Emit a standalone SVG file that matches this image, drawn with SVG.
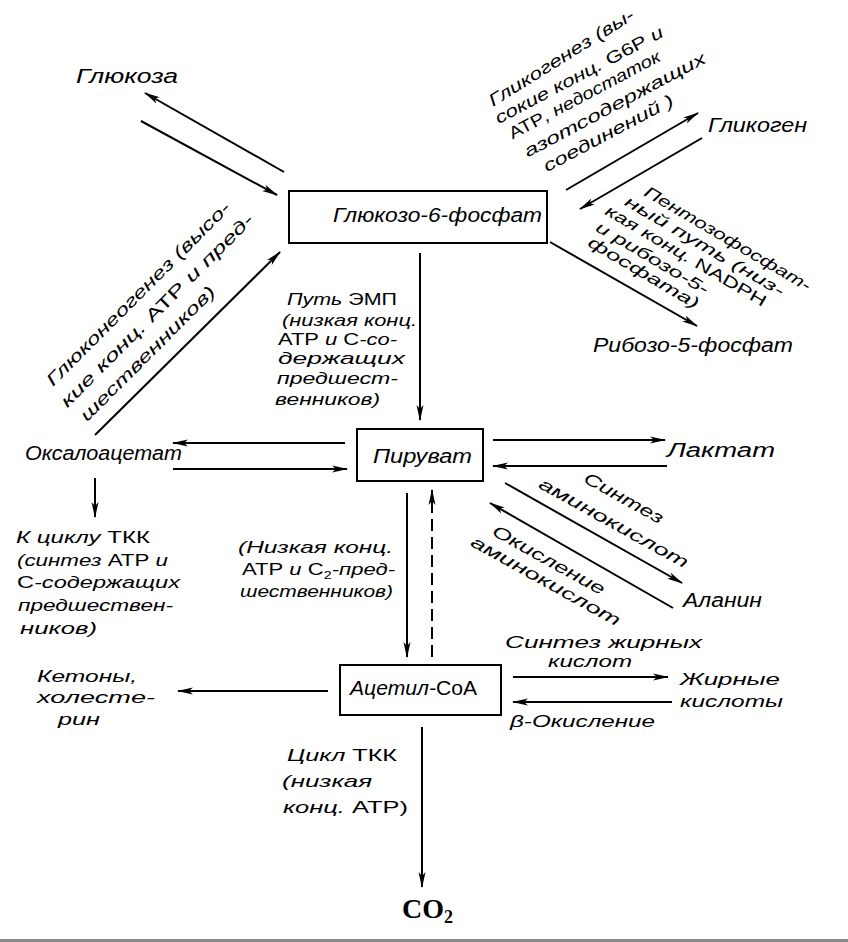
<svg xmlns="http://www.w3.org/2000/svg" width="848" height="942" viewBox="0 0 848 942">
<defs>
<marker id="ah" viewBox="0 0 16 8" refX="15" refY="4" markerWidth="16" markerHeight="8" markerUnits="userSpaceOnUse" orient="auto">
<path d="M0,0.5 L16,4 L0,7.5 L4,4 z" fill="#000"/>
</marker>
<style>
.t{font-family:"Liberation Sans","DejaVu Sans",sans-serif;font-style:italic;font-size:17px;fill:#000}
.s{font-size:16px}
.n{font-size:20px}
.up{font-style:normal}
.ln{stroke:#000;stroke-width:2;fill:none;marker-end:url(#ah)}
.dash{stroke-dasharray:12,6}
.box{stroke:#000;stroke-width:2;fill:#fff}
.co{font-family:"Liberation Serif","DejaVu Serif",serif;font-size:28px;font-weight:bold;fill:#000}
</style>
</defs>
<rect x="0" y="0" width="848" height="942" fill="#fff"/>
<rect x="0" y="939" width="848" height="3" fill="#8a8a8a"/>

<g id="connectors">
<line class="ln" x1="284" y1="172" x2="145" y2="93"/>
<line class="ln" x1="141" y1="121" x2="277" y2="195"/>
<line class="ln" x1="566" y1="190" x2="698" y2="113"/>
<line class="ln" x1="702" y1="138" x2="580" y2="209"/>
<line class="ln" x1="550" y1="242" x2="697" y2="326"/>
<line class="ln" x1="95" y1="435" x2="280" y2="252"/>
<line class="ln" x1="420" y1="253" x2="420" y2="420"/>
<line class="ln" x1="345" y1="443" x2="173" y2="443"/>
<line class="ln" x1="173" y1="469" x2="347" y2="469"/>
<line class="ln" x1="95" y1="478" x2="95" y2="517"/>
<line class="ln" x1="493" y1="440" x2="665" y2="440"/>
<line class="ln" x1="667" y1="466" x2="493" y2="466"/>
<line class="ln" x1="505" y1="483" x2="682" y2="583"/>
<line class="ln" x1="673" y1="608" x2="490" y2="503"/>
<line class="ln" x1="407" y1="493" x2="407" y2="657"/>
<line class="ln dash" x1="432" y1="657" x2="432" y2="490"/>
<line class="ln" x1="328" y1="691" x2="178" y2="691"/>
<line class="ln" x1="513" y1="677" x2="668" y2="677"/>
<line class="ln" x1="672" y1="702" x2="513" y2="702"/>
<line class="ln" x1="422" y1="727" x2="422" y2="887"/>
</g>

<g id="edge-labels">
<g transform="translate(493,107) rotate(-28)">
<text class="t" x="0" y="0" transform="rotate(-4)" textLength="168" lengthAdjust="spacingAndGlyphs">Гликогенез (вы-</text>
<text class="t" x="-3" y="18" textLength="188" lengthAdjust="spacingAndGlyphs">сокие конц. <tspan class="up">G6P</tspan> и</text>
<text class="t" x="2" y="38" textLength="169" lengthAdjust="spacingAndGlyphs"><tspan class="up">АТР</tspan>, недостаток</text>
<text class="t" x="7" y="61" textLength="203" lengthAdjust="spacingAndGlyphs">азотсодержащих</text>
<text class="t" x="17" y="83" textLength="145" lengthAdjust="spacingAndGlyphs">соединений )</text>
</g>
<g transform="translate(643,195) rotate(30.5)">
<text class="t s" x="0" y="0" textLength="190" lengthAdjust="spacingAndGlyphs">Пентозофосфат-</text>
<text class="t s" x="-12" y="18" textLength="182" lengthAdjust="spacingAndGlyphs">ный путь (низ-</text>
<text class="t s" x="-24" y="36" textLength="184" lengthAdjust="spacingAndGlyphs">кая конц. <tspan class="up">NADPH</tspan></text>
<text class="t s" x="-24" y="55" textLength="128" lengthAdjust="spacingAndGlyphs">и рибозо-5-</text>
<text class="t s" x="-23" y="72" textLength="126" lengthAdjust="spacingAndGlyphs">фосфата)</text>
</g>
<g transform="translate(53,387) rotate(-45)">
<text class="t" x="0" y="0" textLength="252" lengthAdjust="spacingAndGlyphs">Глюконеогенез (высо-</text>
<text class="t" x="-5" y="25" textLength="265" lengthAdjust="spacingAndGlyphs">кие конц. <tspan class="up">АТР</tspan> и пред-</text>
<text class="t" x="-1" y="49" textLength="183" lengthAdjust="spacingAndGlyphs">шественников)</text>
</g>
<g>
<text class="t" x="287" y="305" textLength="110" lengthAdjust="spacingAndGlyphs">Путь <tspan class="up">ЭМП</tspan></text>
<text class="t" x="282" y="326" textLength="135" lengthAdjust="spacingAndGlyphs">(низкая конц.</text>
<text class="t" x="278" y="345" textLength="119" lengthAdjust="spacingAndGlyphs"><tspan class="up">АТР</tspan> и <tspan class="up">С</tspan>-со-</text>
<text class="t" x="278" y="364" textLength="127" lengthAdjust="spacingAndGlyphs">держащих</text>
<text class="t" x="277" y="384" textLength="121" lengthAdjust="spacingAndGlyphs">предшест-</text>
<text class="t" x="275" y="405" textLength="105" lengthAdjust="spacingAndGlyphs">венников)</text>
</g>
<g>
<text class="t" x="621" y="503" text-anchor="middle" transform="rotate(29 621 503)" textLength="88" lengthAdjust="spacingAndGlyphs">Синтез</text>
<text class="t" x="611" y="528" text-anchor="middle" transform="rotate(29 611 528)" textLength="168" lengthAdjust="spacingAndGlyphs">аминокислот</text>
<text class="t" x="546" y="565" text-anchor="middle" transform="rotate(29 546 565)" textLength="126" lengthAdjust="spacingAndGlyphs">Окисление</text>
<text class="t" x="543" y="586" text-anchor="middle" transform="rotate(29 543 586)" textLength="168" lengthAdjust="spacingAndGlyphs">аминокислот</text>
</g>
<g>
<text class="t" x="238" y="553" textLength="155" lengthAdjust="spacingAndGlyphs">(Низкая конц.</text>
<text class="t" x="242" y="575" textLength="153" lengthAdjust="spacingAndGlyphs"><tspan class="up">АТР</tspan> и <tspan class="up">С</tspan><tspan class="up" font-size="11" dy="4">2</tspan><tspan dy="-4">-пред-</tspan></text>
<text class="t" x="240" y="597" textLength="153" lengthAdjust="spacingAndGlyphs">шественников)</text>
</g>
<g>
<text class="t" x="505" y="648" textLength="197" lengthAdjust="spacingAndGlyphs">Синтез жирных</text>
<text class="t" x="548" y="667" textLength="84" lengthAdjust="spacingAndGlyphs">кислот</text>
<text class="t" x="510" y="727" textLength="145" lengthAdjust="spacingAndGlyphs">β-Окисление</text>
</g>
<g>
<text class="t" x="287" y="761" textLength="110" lengthAdjust="spacingAndGlyphs">Цикл <tspan class="up">ТКК</tspan></text>
<text class="t" x="282" y="787" textLength="90" lengthAdjust="spacingAndGlyphs">(низкая</text>
<text class="t" x="283" y="813" textLength="125" lengthAdjust="spacingAndGlyphs">конц. <tspan class="up">АТР)</tspan></text>
</g>
</g>

<g id="glucose"><text class="t n" x="76" y="83" textLength="102" lengthAdjust="spacingAndGlyphs">Глюкоза</text></g>
<g id="glucose-6-phosphate">
<rect class="box" x="289" y="191" width="258" height="52"/>
<text class="t n" x="333" y="222" textLength="209" lengthAdjust="spacingAndGlyphs">Глюкозо-6-фосфат</text>
</g>
<g id="glycogen"><text class="t n" x="708" y="132" textLength="99" lengthAdjust="spacingAndGlyphs">Гликоген</text></g>
<g id="ribose-5-phosphate"><text class="t n" x="593" y="352" textLength="200" lengthAdjust="spacingAndGlyphs">Рибозо-5-фосфат</text></g>
<g id="pyruvate">
<rect class="box" x="357" y="429" width="126" height="52"/>
<text class="t n" x="373" y="463" textLength="99" lengthAdjust="spacingAndGlyphs">Пируват</text>
</g>
<g id="oxaloacetate"><text class="t n" x="25" y="460" textLength="157" lengthAdjust="spacingAndGlyphs">Оксалоацетат</text></g>
<g id="tca-cycle-entry">
<text class="t" x="16" y="543" textLength="134" lengthAdjust="spacingAndGlyphs">К циклу <tspan class="up">ТКК</tspan></text>
<text class="t" x="17" y="566" textLength="151" lengthAdjust="spacingAndGlyphs">(синтез <tspan class="up">АТР</tspan> и</text>
<text class="t" x="17" y="588" textLength="163" lengthAdjust="spacingAndGlyphs"><tspan class="up">С</tspan>-содержащих</text>
<text class="t" x="18" y="611" textLength="155" lengthAdjust="spacingAndGlyphs">предшествен-</text>
<text class="t" x="20" y="634" textLength="77" lengthAdjust="spacingAndGlyphs">ников)</text>
</g>
<g id="lactate"><text class="t n" x="667" y="457" textLength="108" lengthAdjust="spacingAndGlyphs">Лактат</text></g>
<g id="alanine"><text class="t n" x="683" y="607" textLength="79" lengthAdjust="spacingAndGlyphs">Аланин</text></g>
<g id="acetyl-coa">
<rect class="box" x="340" y="665" width="161" height="50"/>
<text class="t n" x="350" y="695" textLength="127" lengthAdjust="spacingAndGlyphs">Ацетил-<tspan class="up">CoA</tspan></text>
</g>
<g id="ketones">
<text class="t" x="37" y="682" textLength="100" lengthAdjust="spacingAndGlyphs">Кетоны,</text>
<text class="t" x="37" y="703" textLength="118" lengthAdjust="spacingAndGlyphs">холесте-</text>
<text class="t" x="58" y="725" textLength="42" lengthAdjust="spacingAndGlyphs">рин</text>
</g>
<g id="fatty-acids">
<text class="t" x="680" y="685" textLength="100" lengthAdjust="spacingAndGlyphs">Жирные</text>
<text class="t" x="680" y="707" textLength="103" lengthAdjust="spacingAndGlyphs">кислоты</text>
</g>
<g id="co2"><text class="co" x="402" y="918">CO<tspan font-size="18" dy="5">2</tspan></text></g>
</svg>
